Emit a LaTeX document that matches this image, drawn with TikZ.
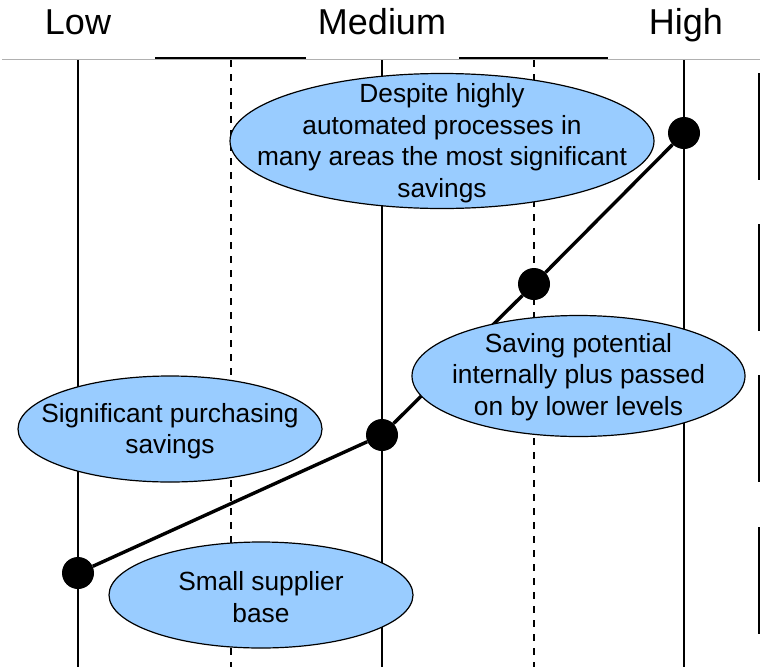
\documentclass[tikz,border=0pt]{standalone}
\usepackage{fontspec}
\setmainfont{Liberation Sans}
\usetikzlibrary{shapes.geometric}
\definecolor{bubble}{HTML}{99CCFF}
\definecolor{rule}{HTML}{B0B0B0}
\begin{document}
\begin{tikzpicture}[x=1pt,y=-1pt,
  level/.style={font=\fontsize{36}{40}\selectfont, anchor=base, inner sep=0},
  bubble/.style={ellipse, draw=black, line width=1.2pt, fill=bubble, inner sep=0},
  bubbletext/.style={inner sep=0, align=center, font=\fontsize{26.3}{31.5}\selectfont},
  dot/.style={circle, fill=black, inner sep=0, minimum size=32},
  grid/.style={line width=1.4pt},
  halfgrid/.style={line width=1.4pt, dash pattern=on 7pt off 7pt},
  trend/.style={line width=3.4pt}]
\useasboundingbox (0,0) rectangle (760,667);

% scale headings
\node[level] (low) at (78,34) {Low};
\node[level] (med) at (382,34) {Medium};
\node[level] (high) at (686,34) {High};

% header rules
\draw[rule, line width=1pt] (2,59) -- (760,59);
\draw[line width=2pt] (155,58) -- (306,58);
\draw[line width=2pt] (459,58) -- (608,58);

% vertical guides
\draw[grid] (78,60) -- (78,667);
\draw[halfgrid] (231,60) -- (231,667);
\draw[grid] (382,60) -- (382,667);
\draw[halfgrid] (534,60) -- (534,667);
\draw[grid] (684,60) -- (684,667);

% right margin marks
\foreach \y in {73,224,375,527}
  \draw[grid] (759,\y) -- (759,\y+107);

% trend points
\node[dot] (p1) at (78,573) {};
\node[dot] (p2) at (382,435) {};
\node[dot] (p3) at (534,284) {};
\node[dot] (p4) at (684,133) {};
\draw[trend] (p1) -- (p2) -- (p3) -- (p4);

% annotations: outline first, then the centred text on top
\node[bubble, minimum width=424, minimum height=135] (top) at (442,141) {};
\node[bubbletext] (toptext) at (442,143)
  {Despite highly\\automated processes in\\many areas the most significant\\savings};
\node[bubble, minimum width=333, minimum height=121] (mid) at (578.5,376) {};
\node[bubbletext] (midtext) at (578.5,377)
  {Saving potential\\internally plus passed\\on by lower levels};
\node[bubble, minimum width=304, minimum height=106] (purch) at (170,429) {};
\node[bubbletext] (purchtext) at (170,431)
  {Significant purchasing\\savings};
\node[bubble, minimum width=304, minimum height=106] (base) at (261,595) {};
\node[bubbletext] (basetext) at (261,597)
  {Small supplier\\base};
\end{tikzpicture}
\end{document}
